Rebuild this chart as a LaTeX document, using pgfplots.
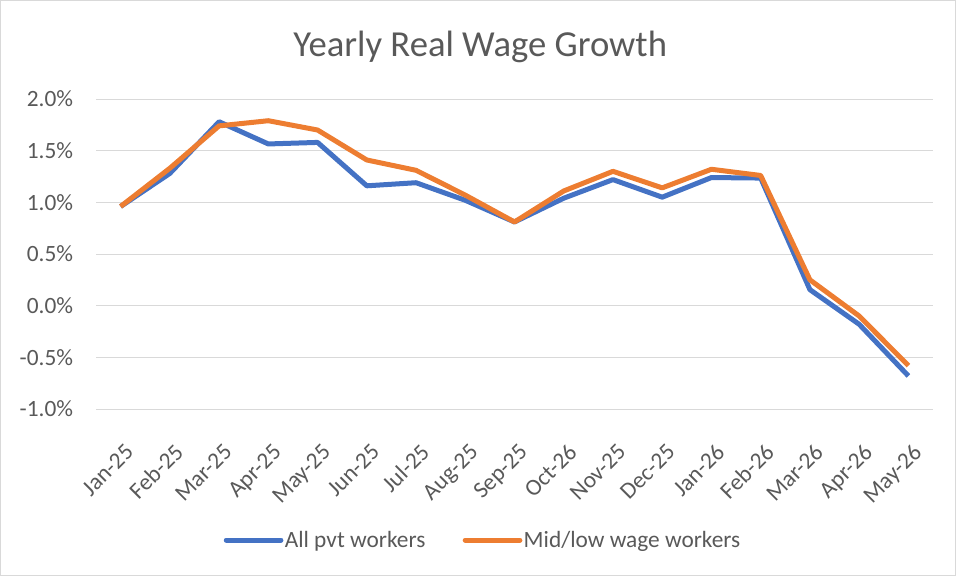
\documentclass[border=0pt]{standalone}
\usepackage{pgfplots}
\pgfplotsset{compat=1.18}
\usepackage{fontspec}
\setmainfont{Carlito}
\definecolor{xblue}{HTML}{4472C4}
\definecolor{xorange}{HTML}{ED7D31}
\definecolor{xgrid}{HTML}{D9D9D9}
\definecolor{xtext}{HTML}{595959}
\begin{document}
\begin{tikzpicture}
\useasboundingbox (0,0) rectangle (717pt,-432pt);
\draw[xgrid, line width=0.75pt] (0.375pt,-0.375pt) rectangle (716.625pt,-431.625pt);
\begin{axis}[
  at={(72pt,-306.75pt)}, anchor=south west,
  scale only axis, width=627.75pt, height=232.5pt,
  xmin=-0.5, xmax=16.5, ymin=-1, ymax=2,
  axis line style={draw=none},
  major tick length=0pt,
  ymajorgrids, grid style={xgrid, line width=0.75pt},
  xtick={0,...,16},
  xticklabels={Jan-25,Feb-25,Mar-25,Apr-25,May-25,Jun-25,Jul-25,Aug-25,Sep-25,Oct-26,Nov-25,Dec-25,Jan-26,Feb-26,Mar-26,Apr-26,May-26},
  ytick={-1,-0.5,0,0.5,1,1.5,2},
  yticklabel={\pgfmathprintnumber[fixed,fixed zerofill,precision=1]{\tick}\%},
  /pgf/number format/assume math mode=true,
  ticklabel style={font=\fontsize{17.5}{20}\selectfont, text=xtext},
  yticklabel style={anchor=east, inner sep=0pt, xshift=-17pt},
  xticklabel style={font=\fontsize{17.5}{20}\selectfont, text=xtext, xshift=2.5pt, yshift=-25pt, rotate=45, anchor=north east, inner sep=0pt},
  title={Yearly Real Wage Growth},
  title style={at={(axis description cs:0.459,1)}, anchor=base, yshift=26pt, inner sep=0pt,
    font=\fontsize{27.5}{32}\selectfont, text=xtext},
  legend style={at={(axis description cs:0.462,-0.4226)}, anchor=center, draw=none, fill=none,
    font=\fontsize{17.5}{20}\selectfont, text=xtext, legend columns=-1,
    nodes={inner sep=1pt},
    /tikz/every even column/.append style={column sep=27pt}},
  legend cell align=left,
  legend image code/.code={\draw[#1, line cap=round] (0pt,0pt) -- (41pt,0pt);},
]
\addplot[xblue, line width=3.75pt, line join=round] coordinates {
(0,0.96) (1,1.28) (2,1.78) (3,1.565) (4,1.58) (5,1.16) (6,1.19) (7,1.02) (8,0.81)
(9,1.04) (10,1.22) (11,1.05) (12,1.24) (13,1.235) (14,0.155) (15,-0.18) (16,-0.68)};
\addlegendentry{All pvt workers}
\addplot[xorange, line width=3.75pt, line join=round] coordinates {
(0,0.96) (1,1.33) (2,1.74) (3,1.79) (4,1.70) (5,1.41) (6,1.31) (7,1.07) (8,0.81)
(9,1.11) (10,1.30) (11,1.14) (12,1.32) (13,1.26) (14,0.25) (15,-0.10) (16,-0.58)};
\addlegendentry{Mid/low wage workers}
\end{axis}
\end{tikzpicture}
\end{document}
